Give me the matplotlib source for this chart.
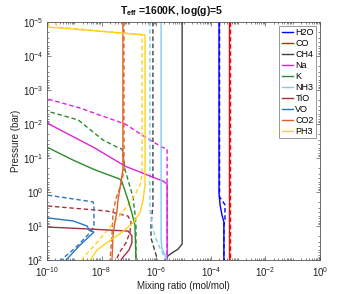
import numpy as np
import matplotlib
matplotlib.use("Agg")
import matplotlib.pyplot as plt
from matplotlib.ticker import LogLocator, NullFormatter, FixedLocator

plt.rcParams['font.family'] = ['Liberation Sans', 'DejaVu Sans']
plt.rcParams['mathtext.fontset'] = 'custom'
plt.rcParams['mathtext.rm'] = 'Liberation Sans'
plt.rcParams['mathtext.it'] = 'Liberation Sans:italic'
plt.rcParams['mathtext.bf'] = 'Liberation Sans:bold'
plt.rcParams['mathtext.default'] = 'regular'

# ---- data: log10 mixing ratio vs log10 pressure (bar) ----
# solid = model A, dashed = model B
h2o_lp = [-5, 0.03, 0.38, 0.68, 0.88, 2]
h2o_lx = [-3.70, -3.70, -3.66, -3.59, -3.52, -3.52]
h2o_lp_d = [-5, 0.15, 0.24, 0.38, 0.85, 0.97, 2]
h2o_lx_d = [-3.68, -3.68, -3.59, -3.48, -3.48, -3.52, -3.52]

co_lp = [-5, 2]
co_lx = [-3.34, -3.34]
co_lp_d = [-5, 2]
co_lx_d = [-3.31, -3.31]

ch4_lp = [-5, 1.53, 1.68, 1.79, 1.88, 2]
ch4_lx = [-5.05, -5.05, -5.20, -5.42, -5.57, -5.64]
ch4_lp_d = [-5, 0.38, 0.97, 1.35, 1.65, 2]
ch4_lx_d = [-6.12, -6.12, -6.19, -6.19, -6.08, -5.95]

na_lp = [-5, -2.03, -1.29, -0.76, -0.32, -0.24, 2]
na_lx = [-10.5, -10.0, -8.24, -7.14, -5.75, -5.60, -5.60]
na_lp_d = [-5, -2.74, -2.47, -2.26, -2.0, -1.62, -1.32, -1.26, 2]
na_lx_d = [-10.5, -10.0, -8.79, -8.06, -7.14, -6.41, -5.79, -5.60, -5.60]

k_lp = [-5, -1.32, -0.94, -0.65, -0.38, -0.29, 0.24, 0.62, 0.97, 2]
k_lx = [-10.5, -10.0, -9.05, -8.24, -7.33, -7.25, -7.03, -6.89, -6.78, -6.74]
k_lp_d = [-5, -2.38, -2.12, -1.53, -1.35, -1.26, -0.94, -0.65, -0.35, 0.15, 0.62, 0.97, 2]
k_lx_d = [-10.5, -10.0, -8.86, -7.95, -7.51, -7.25, -7.18, -7.14, -7.03, -6.85, -6.78, -6.74, -6.74]

nh3_lp = [-5, 1.41, 1.65, 1.85, 2]
nh3_lx = [-5.82, -5.82, -5.79, -5.68, -5.60]
nh3_lp_d = [-5, 0.53, 0.97, 1.32, 1.65, 2]
nh3_lx_d = [-6.23, -6.23, -6.15, -6.04, -5.86, -5.64]

tio_lp = [1.0, 1.03, 1.09, 1.15, 1.29, 1.5, 1.71, 1.88, 2]
tio_lx = [-10.5, -10.0, -8.42, -7.03, -6.89, -6.89, -7.0, -7.18, -7.29]
tio_lp_d = [0.38, 0.41, 0.56, 0.71, 0.88, 1.18, 1.5, 1.76, 2]
tio_lx_d = [-10.5, -10.0, -7.80, -7.03, -6.92, -6.96, -7.11, -7.33, -7.47]

vo_lp = [0.74, 0.76, 0.85, 1.0, 1.12, 1.18, 1.56, 2]
vo_lx = [-10.5, -10.0, -9.05, -8.53, -8.46, -8.28, -8.79, -9.30]
vo_lp_d = [0.07, 0.09, 0.29, 0.38, 1.03, 1.26, 1.65, 2]
vo_lx_d = [-10.5, -10.0, -8.32, -8.28, -8.28, -8.50, -8.97, -9.49]

co2_lp = [-5, -0.65, -0.29, 0.24, 0.59, 0.88, 1.26, 2]
co2_lx = [-7.22, -7.22, -7.29, -7.40, -7.44, -7.51, -7.58, -7.62]
co2_lp_d = [-5, -0.65, -0.21, 0.18, 0.59, 1.26, 2]
co2_lx_d = [-7.18, -7.18, -7.29, -7.47, -7.58, -7.62, -7.69]

ph3_lp = [-5, -4.85, -4.62, -0.21, 0.24, 0.59, 0.88, 1.18, 1.47, 1.71, 2]
ph3_lx = [-9.96, -9.93, -6.41, -6.41, -6.48, -6.59, -6.81, -7.25, -7.77, -8.17, -8.42]
ph3_lp_d = [-5, -4.85, -4.62, -0.5, -0.21, 0.09, 0.38, 0.76, 1.21, 1.62, 1.94, 2]
ph3_lx_d = [-9.71, -9.60, -6.52, -6.52, -6.59, -6.78, -7.03, -7.40, -7.88, -8.32, -8.68, -8.72]

species = ['H2O', 'CO', 'CH4', 'Na', 'K', 'NH3', 'TiO', 'VO', 'CO2', 'PH3']
colors = ['#0000ff', '#ff0000', '#404040', '#dd22dd', '#2a8c2a',
          '#7fcdee', '#a8303e', '#2a75c0', '#e0602a', '#ffd21a']

x_ticks = [1e-10, 1e-8, 1e-6, 1e-4, 1e-2, 1]
y_ticks = [1e-5, 1e-4, 1e-3, 1e-2, 1e-1, 1, 1e1, 1e2]

solid = [(h2o_lp, h2o_lx), (co_lp, co_lx), (ch4_lp, ch4_lx), (na_lp, na_lx),
         (k_lp, k_lx), (nh3_lp, nh3_lx), (tio_lp, tio_lx), (vo_lp, vo_lx),
         (co2_lp, co2_lx), (ph3_lp, ph3_lx)]
dashed = [(h2o_lp_d, h2o_lx_d), (co_lp_d, co_lx_d), (ch4_lp_d, ch4_lx_d),
          (na_lp_d, na_lx_d), (k_lp_d, k_lx_d), (nh3_lp_d, nh3_lx_d),
          (tio_lp_d, tio_lx_d), (vo_lp_d, vo_lx_d), (co2_lp_d, co2_lx_d),
          (ph3_lp_d, ph3_lx_d)]


def pw(a):
    return 10.0 ** np.asarray(a, dtype=float)


W, H = 354, 294
fig = plt.figure(figsize=(W / 100, H / 100), dpi=100)
L, R, T, B = 47, 320, 22, 260
ax = fig.add_axes([L / W, 1 - B / H, (R - L) / W, (B - T) / H])

for name, c, (lp, lx), (lpd, lxd) in zip(species, colors, solid, dashed):
    ax.plot(pw(lxd), pw(lpd), color=c, lw=1.0, ls=(0, (3.2, 2.0)))
for name, c, (lp, lx) in zip(species, colors, solid):
    ax.plot(pw(lx), pw(lp), color=c, lw=1.0, label=name)

ax.set_xscale('log')
ax.set_yscale('log')
ax.set_xlim(1e-10, 1)
ax.set_ylim(1e2, 1e-5)

ax.xaxis.set_major_locator(FixedLocator(x_ticks))
ax.xaxis.set_minor_locator(LogLocator(base=10, subs=np.arange(1, 10), numticks=50))
ax.xaxis.set_minor_formatter(NullFormatter())
ax.yaxis.set_major_locator(FixedLocator(y_ticks))
ax.yaxis.set_minor_locator(LogLocator(base=10, subs=np.arange(2, 10), numticks=50))
ax.yaxis.set_minor_formatter(NullFormatter())

gray = '#555555'
for s in ax.spines.values():
    s.set_color(gray)
    s.set_linewidth(0.6)
ax.tick_params(which='both', direction='in', top=True, right=True, colors=gray,
               labelcolor='#222222', labelsize=7, width=0.5)
ax.tick_params(which='major', length=3)
ax.tick_params(which='minor', length=1.5)
ax.tick_params(axis='x', which='major', pad=4)
ax.tick_params(axis='y', which='major', pad=2.5)

ax.set_xlabel('Mixing ratio (mol/mol)', fontsize=7, color='#222222', labelpad=1.5)
ax.set_ylabel('Pressure (bar)', fontsize=7, color='#222222', labelpad=1.5)

fig.text(172 / W, 1 - 11 / H, r'$\mathbf{T_{eff}}$ =1600K, log(g)=5',
         fontsize=7.5, fontweight='bold', ha='center', va='center', color='#111111')

leg = ax.legend(loc='upper right', bbox_to_anchor=(0.985, 0.985), borderaxespad=0,
                fontsize=6.5, handlelength=1.3, handletextpad=0.2,
                labelspacing=0.22, borderpad=0.25, fancybox=False,
                framealpha=1, edgecolor='#888888')
leg.get_frame().set_linewidth(0.6)

fig.savefig('out.png', dpi=100)
